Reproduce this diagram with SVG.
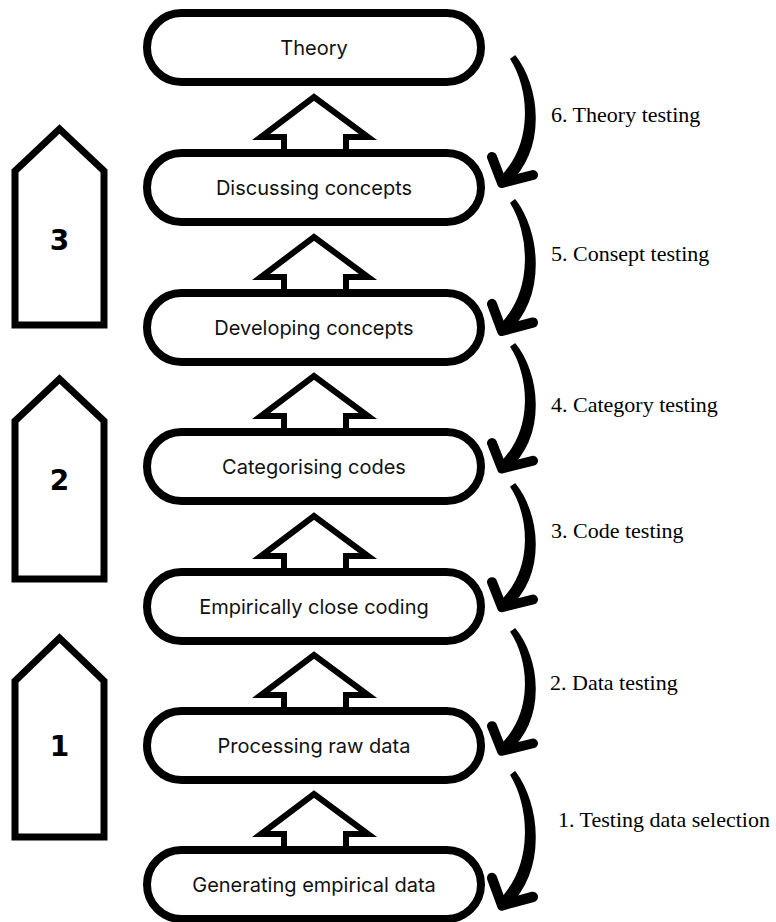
<svg xmlns="http://www.w3.org/2000/svg" xmlns:xlink="http://www.w3.org/1999/xlink" width="776" height="922" viewBox="0 0 776 922">
  <style>
    .pill { fill: #ffffff; stroke: #000000; stroke-width: 8; }
    .up { fill: #ffffff; stroke: #000000; stroke-width: 6; stroke-linejoin: miter; }
    .stage { fill: #ffffff; stroke: #000000; stroke-width: 7; stroke-linejoin: miter; }
    .label { font-family: Inter, "Liberation Sans", sans-serif; font-size: 20px; fill: #111111; text-anchor: middle; }
    .num { font-family: "DejaVu Sans", "Liberation Sans", sans-serif; font-weight: bold; font-size: 28px; fill: #000000; text-anchor: middle; }
    .test { font-family: "Liberation Serif", "Times New Roman", serif; font-size: 22px; fill: #000000; }
    .curl-body { fill: #000000; stroke: #000000; stroke-width: 1.5; stroke-linejoin: round; }
    .curl-head { fill: none; stroke: #000000; stroke-width: 10; stroke-linecap: round; stroke-linejoin: round; }
  </style>
  <defs>
    <!-- brush-style curved arrow, starts at y=0 and points down-left at y≈127 -->
    <g id="curl">
      <path class="curl-body" d="M515,-1 C538,28 548,90 507,128 L499,122 C536,86 529,30 511,2 Z"/>
      <path class="curl-head" d="M492,100 L502,126 L533,118"/>
    </g>
  </defs>

  <!-- stage markers on the left -->
  <g id="stage-3">
    <path class="stage" d="M15,171 L59.5,129 L104,171 L104,325 L15,325 Z"/>
    <text class="num" x="59.5" y="250">3</text>
  </g>
  <g id="stage-2">
    <path class="stage" d="M15,421 L59.5,379 L104,421 L104,579 L15,579 Z"/>
    <text class="num" x="59.5" y="490">2</text>
  </g>
  <g id="stage-1">
    <path class="stage" d="M15,681 L59.5,638 L104,681 L104,837 L15,837 Z"/>
    <text class="num" x="59.5" y="756">1</text>
  </g>

  <!-- connectors: block arrows upward and testing loops on the right -->
  <g id="connectors">
    <polyline class="up" points="284,153 284,137 261,137 314,97 368,137 346,137 346,153"/>
    <polyline class="up" points="284,293 284,277 261,277 314,237 368,277 346,277 346,293"/>
    <polyline class="up" points="284,432 284,416 261,416 314,376 368,416 346,416 346,432"/>
    <polyline class="up" points="284,572 284,556 261,556 314,516 368,556 346,556 346,572"/>
    <polyline class="up" points="284,711 284,695 261,695 314,655 368,695 346,695 346,711"/>
    <polyline class="up" points="284,850 284,834 261,834 314,794 368,834 346,834 346,850"/>

    <use xlink:href="#curl" href="#curl" transform="translate(0,57)"/>
    <use xlink:href="#curl" href="#curl" transform="translate(0,201) scale(1,1.03)"/>
    <use xlink:href="#curl" href="#curl" transform="translate(0,345) scale(1,0.98)"/>
    <use xlink:href="#curl" href="#curl" transform="translate(0,485) scale(1,0.97)"/>
    <use xlink:href="#curl" href="#curl" transform="translate(0,630) scale(1,0.96)"/>
    <use xlink:href="#curl" href="#curl" transform="translate(0,773) scale(1,1.05)"/>
  </g>

  <!-- process steps -->
  <g id="theory">
    <rect class="pill" x="147" y="13" width="334" height="69" rx="34.5"/>
    <text class="label" x="314" y="55">Theory</text>
  </g>
  <g id="discussing-concepts">
    <rect class="pill" x="147" y="153" width="334" height="69" rx="34.5"/>
    <text class="label" x="314" y="195">Discussing concepts</text>
  </g>
  <g id="developing-concepts">
    <rect class="pill" x="147" y="293" width="334" height="69" rx="34.5"/>
    <text class="label" x="314" y="335">Developing concepts</text>
  </g>
  <g id="categorising-codes">
    <rect class="pill" x="147" y="432" width="334" height="69" rx="34.5"/>
    <text class="label" x="314" y="474">Categorising codes</text>
  </g>
  <g id="empirically-close-coding">
    <rect class="pill" x="147" y="572" width="334" height="69" rx="34.5"/>
    <text class="label" x="314" y="614">Empirically close coding</text>
  </g>
  <g id="processing-raw-data">
    <rect class="pill" x="147" y="711" width="334" height="69" rx="34.5"/>
    <text class="label" x="314" y="753">Processing raw data</text>
  </g>
  <g id="generating-empirical-data">
    <rect class="pill" x="147" y="850" width="334" height="69" rx="34.5"/>
    <text class="label" x="314" y="892">Generating empirical data</text>
  </g>

  <!-- testing labels -->
  <g id="testing-labels">
    <text class="test" x="551" y="122">6. Theory testing</text>
    <text class="test" x="551" y="261">5. Consept testing</text>
    <text class="test" x="551" y="412">4. Category testing</text>
    <text class="test" x="551" y="538">3. Code testing</text>
    <text class="test" x="550" y="690">2. Data testing</text>
    <text class="test" x="558" y="827">1. Testing data selection</text>
  </g>
</svg>
